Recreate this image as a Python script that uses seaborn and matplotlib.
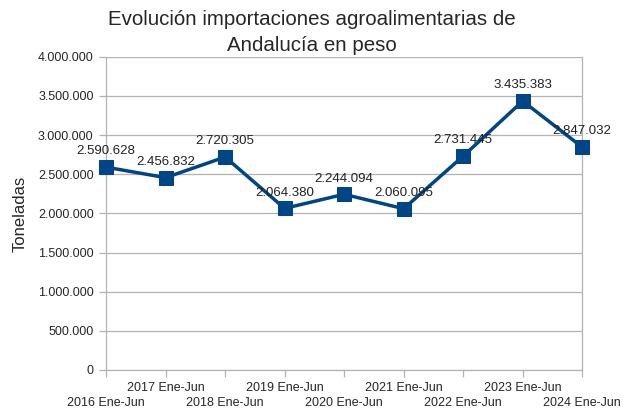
import matplotlib
matplotlib.use("Agg")
import matplotlib.pyplot as plt
import seaborn as sns
import pandas as pd

categories = ["2016 Ene-Jun", "2017 Ene-Jun", "2018 Ene-Jun", "2019 Ene-Jun", "2020 Ene-Jun",
              "2021 Ene-Jun", "2022 Ene-Jun", "2023 Ene-Jun", "2024 Ene-Jun"]
values = [2590628, 2456832, 2720305, 2064380, 2244094, 2060095, 2731445, 3435383, 2847032]
value_labels = ["2.590.628", "2.456.832", "2.720.305", "2.064.380", "2.244.094",
                "2.060.095", "2.731.445", "3.435.383", "2.847.032"]
y_ticks = [0, 500000, 1000000, 1500000, 2000000, 2500000, 3000000, 3500000, 4000000]
y_tick_labels = ["0", "500.000", "1.000.000", "1.500.000", "2.000.000", "2.500.000",
                 "3.000.000", "3.500.000", "4.000.000"]

sns.set_theme(style="white")
plt.rcParams['font.family'] = ['Liberation Sans', 'DejaVu Sans']

df = pd.DataFrame({"pos": range(len(categories)), "value": values})

fig = plt.figure(figsize=(6.24, 4.09), dpi=100)
ax = fig.add_axes([0.170, 0.0954, 0.763, 0.7656])

color = "#004586"
sns.lineplot(data=df, x="pos", y="value", ax=ax, color=color, linewidth=2.5,
             marker="s", markersize=10.5, markeredgecolor=color, markerfacecolor=color,
             zorder=3, clip_on=False)

for i, (v, lab) in enumerate(zip(values, value_labels)):
    ax.annotate(lab, (i, v), xytext=(0, 7), textcoords="offset points",
                ha="center", va="bottom", fontsize=9.5, color="#222222", zorder=4)

ax.set_xlim(0, len(categories) - 1)
ax.set_ylim(0, 4000000)
ax.set_yticks(y_ticks)
ax.set_yticklabels(y_tick_labels, fontsize=9)

# Alternating two-row category labels: even positions on the lower row, odd on the upper
even_pos = list(range(0, len(categories), 2))
odd_pos = list(range(1, len(categories), 2))
ax.set_xticks(even_pos)
ax.set_xticklabels([categories[i] for i in even_pos], fontsize=9)
ax.set_xticks(odd_pos, minor=True)
ax.set_xticklabels([categories[i] for i in odd_pos], minor=True, fontsize=9)
ax.tick_params(axis="x", which="major", pad=14.5, length=5, width=0.9, color="#b3b3b3", bottom=True)
ax.tick_params(axis="x", which="minor", pad=3.5, length=5, width=0.9, color="#b3b3b3", bottom=True)
ax.tick_params(axis="y", which="major", length=5, width=0.9, color="#b3b3b3", left=True, pad=4)

ax.yaxis.grid(True, color="#b3b3b3", linewidth=0.9)
ax.xaxis.grid(False)
ax.spines["top"].set_visible(False)
for side in ["left", "right", "bottom"]:
    ax.spines[side].set_color("#b3b3b3")
    ax.spines[side].set_linewidth(0.9)
ax.set_xlabel("")
ax.set_ylabel("Toneladas", fontsize=12, labelpad=7)

fig.suptitle("Evolución importaciones agroalimentarias de\nAndalucía en peso",
             fontsize=14.8, y=0.975, linespacing=1.45)

fig.savefig("out.png", dpi=100, facecolor="white")
